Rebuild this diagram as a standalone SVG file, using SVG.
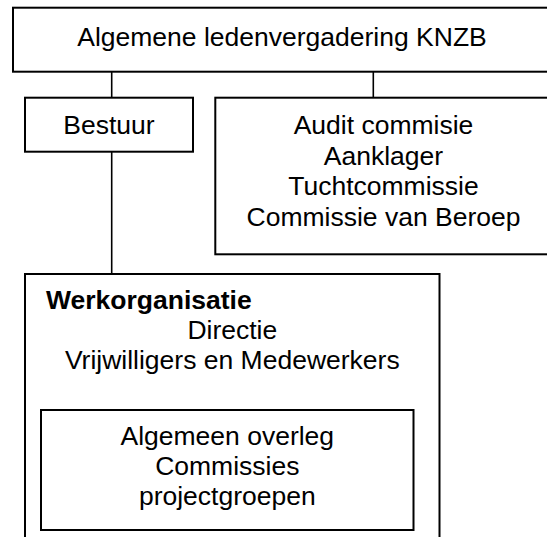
<svg xmlns="http://www.w3.org/2000/svg" width="547" height="537" viewBox="0 0 547 537">
<style>
.box{fill:#fff;stroke:#000;stroke-width:2}
.ln{fill:none;stroke:#000;stroke-width:1.6}
text{font-family:"Liberation Sans",Arial,sans-serif;font-size:26.5px;fill:#000}
.c{text-anchor:middle}
.b{font-weight:bold}
</style>
<rect width="547" height="537" fill="#fff"/>
<g id="connectors">
<line class="ln" x1="111.7" y1="71.7" x2="111.7" y2="97.7"/>
<line class="ln" x1="373.3" y1="71.7" x2="373.3" y2="97.7"/>
<line class="ln" x1="111.7" y1="151.7" x2="111.7" y2="274"/>
</g>
<g id="node-alv">
<rect class="box" x="13" y="7.7" width="560" height="64"/>
<text class="c" x="282" y="46">Algemene ledenvergadering KNZB</text>
</g>
<g id="node-bestuur">
<rect class="box" x="25" y="97.7" width="168" height="54"/>
<text class="c" x="109" y="134">Bestuur</text>
</g>
<g id="node-commissies">
<rect class="box" x="215.3" y="97.7" width="360" height="156.6"/>
<text class="c" x="383.5" y="134">Audit commisie</text>
<text class="c" x="383.5" y="164.5">Aanklager</text>
<text class="c" x="383.5" y="195">Tuchtcommissie</text>
<text class="c" x="383.5" y="225.5">Commissie van Beroep</text>
</g>
<g id="node-werkorganisatie">
<rect class="box" x="25" y="274" width="414.5" height="290"/>
<text class="b" x="46" y="309">Werkorganisatie</text>
<text class="c" x="232.3" y="339">Directie</text>
<text class="c" x="232.3" y="369">Vrijwilligers en Medewerkers</text>
</g>
<g id="node-overleg">
<rect class="box" x="41" y="410" width="372.5" height="120"/>
<text class="c" x="227.3" y="445">Algemeen overleg</text>
<text class="c" x="227.3" y="475">Commissies</text>
<text class="c" x="227.3" y="505">projectgroepen</text>
</g>
</svg>
